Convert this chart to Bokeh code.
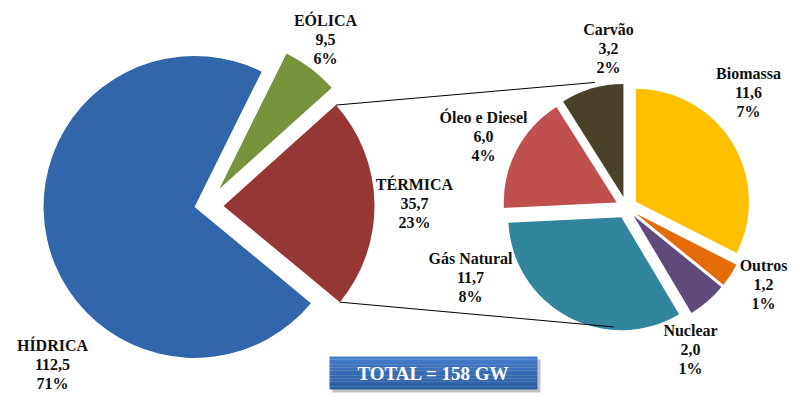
import math
from bokeh.plotting import figure
from bokeh.models import Range1d
from bokeh.embed import file_html
from bokeh.resources import INLINE
from bokeh.core.properties import value

# ---------------- data ----------------
main_names = ["HÍDRICA", "TÉRMICA", "EÓLICA"]
main_values = [112.5, 35.7, 9.5]
main_pct_labels = ["71%", "23%", "6%"]
main_colors = ["#3166AB", "#953735", "#77933C"]

sub_names = ["Carvão", "Óleo e Diesel", "Gás Natural", "Nuclear", "Outros", "Biomassa"]
sub_values = [3.2, 6.0, 11.7, 2.0, 1.2, 11.6]
sub_pct_labels = ["2%", "4%", "8%", "1%", "1%", "7%"]
sub_colors = ["#4A412A", "#C0504D", "#31859C", "#604A7B", "#E36C09", "#FFC000"]

total_label = "TOTAL = 158 GW"

# ---------------- layout ----------------
W, H = 809, 405
FONT = value("Liberation Serif")

def Y(py):
    return H - py

p = figure(width=W, height=H, output_backend="svg", toolbar_location=None,
           x_range=Range1d(0, W), y_range=Range1d(0, H), min_border=0)
p.axis.visible = False
p.grid.visible = False
p.outline_line_color = None
p.background_fill_color = "white"
p.border_fill_color = "white"


def pie(values, cx, cy_px, r, start_deg, explode, colors, shift=None):
    total = sum(values)
    a = math.radians(start_deg)
    out = []
    shift = shift or [0] * len(values)
    for v, e, c, s in zip(values, explode, colors, shift):
        span = 2 * math.pi * v / total
        mid = a + span / 2 + math.radians(s)
        x = cx + e * math.cos(mid)
        y = Y(cy_px) + e * math.sin(mid)
        p.wedge(x=x, y=y, radius=r, start_angle=a, end_angle=a + span,
                direction="anticlock", fill_color=c, line_color=None)
        out.append((x, y, a, a + span))
        a += span
    return out

# main pie
main_geo = pie(main_values, 196, 206, 151, 63.6, [2, 27, 29], main_colors,
               shift=[0, 0, -15])
# secondary pie (breakdown of TÉRMICA)
sub_geo = pie(sub_values, 626, 207, 113, 90.0, [11] * 6, sub_colors)

# connector lines from TÉRMICA slice tips to secondary pie
tx, ty, ta0, ta1 = main_geo[1]
R1 = 151
top_start = (tx + R1 * math.cos(ta1), ty + R1 * math.sin(ta1))
bot_start = (tx + R1 * math.cos(ta0), ty + R1 * math.sin(ta0))
cx_, cy_, _, _ = sub_geo[0]
top_end = (cx_ + 118 * math.cos(math.radians(104)), cy_ + 118 * math.sin(math.radians(104)))
gx, gy, _, _ = sub_geo[2]
bot_end = (gx + 110 * math.cos(math.radians(266)), gy + 110 * math.sin(math.radians(266)))
p.line([top_start[0], top_end[0]], [top_start[1], top_end[1]], line_color="black", line_width=1)
p.line([bot_start[0], bot_end[0]], [bot_start[1], bot_end[1]], line_color="black", line_width=1)

# labels (positions = centre of the first line, in px)
main_label_pos = [(52, 345), (414, 184), (325, 20)]
sub_label_pos = [(608, 29), (483, 117), (470, 258), (690, 330), (763, 265), (748, 73)]
LS = 19


def fmt(v):
    return f"{v:.1f}".replace(".", ",")


def labels(names, vals, pcts, pos):
    for n, v, pc, (x, y) in zip(names, vals, pcts, pos):
        for i, t in enumerate([n, fmt(v), pc]):
            p.text(x=[x], y=[Y(y + i * LS)], text=[t], text_align="center",
                   text_baseline="middle", text_font=FONT, text_font_style="bold",
                   text_font_size="16px", text_color="#111111")


labels(main_names, main_values, main_pct_labels, main_label_pos)
labels(sub_names, sub_values, sub_pct_labels, sub_label_pos)

# total box with shadow
bx0, bx1, by0, by1 = 329, 537, 356, 389
p.quad(left=bx0 + 3, right=bx1 + 3, top=Y(by0 + 3), bottom=Y(by1 + 3),
       fill_color="#9a9a9a", fill_alpha=0.6, line_color=None)
steps = 12
for i in range(steps):
    t = i / (steps - 1)
    r = int(0x44 + (0x2A - 0x44) * t)
    g = int(0x7E + (0x5C - 0x7E) * t)
    b = int(0xCC + (0xA3 - 0xCC) * t)
    h = (by1 - by0) / steps
    p.quad(left=bx0, right=bx1, top=Y(by0 + i * h), bottom=Y(by0 + (i + 1) * h),
           fill_color=f"#{r:02x}{g:02x}{b:02x}", line_color=None)
p.text(x=[(bx0 + bx1) / 2], y=[Y((by0 + by1) / 2)], text=[total_label],
       text_align="center", text_baseline="middle", text_font=FONT,
       text_font_style="bold", text_font_size="19px", text_color="white")

open("out.html", "w").write(file_html(p, INLINE))
